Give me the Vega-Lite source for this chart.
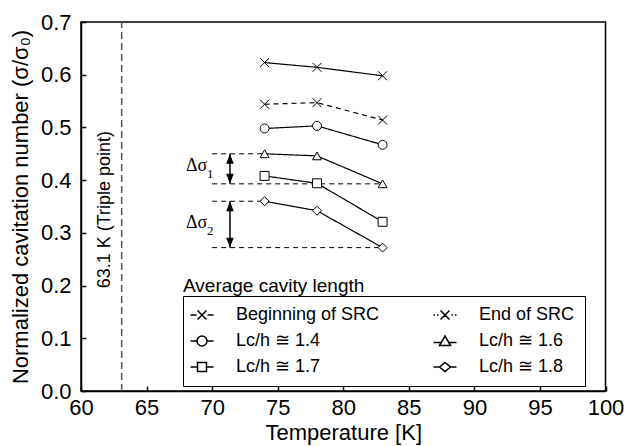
{
  "$schema": "https://vega.github.io/schema/vega-lite/v6.json",
  "width": 524.5,
  "height": 369,
  "autosize": {"type": "none"},
  "padding": {"left": 81, "top": 22, "right": 20.5, "bottom": 55},
  "background": "white",
  "datasets": {
    "series": [
      {"series": "Beginning of SRC", "T": 74, "s": 0.623},
      {"series": "Beginning of SRC", "T": 78, "s": 0.614},
      {"series": "Beginning of SRC", "T": 83, "s": 0.598},
      {"series": "End of SRC", "T": 74, "s": 0.544},
      {"series": "End of SRC", "T": 78, "s": 0.547},
      {"series": "End of SRC", "T": 83, "s": 0.514},
      {"series": "Lc/h ≅ 1.4", "T": 74, "s": 0.498},
      {"series": "Lc/h ≅ 1.4", "T": 78, "s": 0.503},
      {"series": "Lc/h ≅ 1.4", "T": 83, "s": 0.467},
      {"series": "Lc/h ≅ 1.6", "T": 74, "s": 0.45},
      {"series": "Lc/h ≅ 1.6", "T": 78, "s": 0.446},
      {"series": "Lc/h ≅ 1.6", "T": 83, "s": 0.393},
      {"series": "Lc/h ≅ 1.7", "T": 74, "s": 0.408},
      {"series": "Lc/h ≅ 1.7", "T": 78, "s": 0.394},
      {"series": "Lc/h ≅ 1.7", "T": 83, "s": 0.321},
      {"series": "Lc/h ≅ 1.8", "T": 74, "s": 0.36},
      {"series": "Lc/h ≅ 1.8", "T": 78, "s": 0.342},
      {"series": "Lc/h ≅ 1.8", "T": 83, "s": 0.272}
    ],
    "triple": [{"T": 63.1, "s": 0, "s2": 0.7}],
    "hrefs": [
      {"T": 70, "T2": 74, "s": 0.45},
      {"T": 70, "T2": 83, "s": 0.393},
      {"T": 70, "T2": 74, "s": 0.36},
      {"T": 70, "T2": 83, "s": 0.272}
    ],
    "arrows": [
      {"T": 71.36, "s": 0.45, "s2": 0.393},
      {"T": 71.36, "s": 0.36, "s2": 0.272}
    ],
    "headsUp": [{"T": 71.36, "s": 0.45}, {"T": 71.36, "s": 0.36}],
    "headsDown": [{"T": 71.36, "s": 0.393}, {"T": 71.36, "s": 0.272}],
    "deltas": [
      {"T": 68.0, "s": 0.426, "main": "Δσ", "sub": "1"},
      {"T": 68.0, "s": 0.318, "main": "Δσ", "sub": "2"}
    ],
    "tripleText": [{"T": 61.83, "s": 0.344, "label": "63.1 K (Triple point)"}],
    "legendTitle": [{"T": 67.78, "s": 0.188, "label": "Average cavity length"}]
  },
  "encoding": {
    "x": {
      "field": "T", "type": "quantitative",
      "scale": {"domain": [60, 100], "nice": false, "zero": false},
      "axis": {"title": "Temperature [K]", "values": [60, 65, 70, 75, 80, 85, 90, 95, 100], "labelPadding": 11, "titlePadding": 4, "labelFlush": false, "labelOverlap": false}
    },
    "y": {
      "field": "s", "type": "quantitative",
      "scale": {"domain": [0, 0.7], "nice": false, "zero": false},
      "axis": {"title": "Normalized cavitation number (σ/σ₀)", "values": [0, 0.1, 0.2, 0.3, 0.4, 0.5, 0.6, 0.7], "format": ".1f", "labelPadding": 15, "titlePadding": 8, "labelFlush": false, "labelOverlap": false}
    }
  },
  "layer": [
    {
      "data": {"name": "triple"},
      "mark": {"type": "rule", "color": "#555555", "strokeWidth": 1.5, "strokeDash": [7, 4]},
      "encoding": {"y2": {"field": "s2"}}
    },
    {
      "data": {"name": "hrefs"},
      "mark": {"type": "rule", "color": "black", "strokeWidth": 1, "strokeDash": [5, 4]},
      "encoding": {"x2": {"field": "T2"}}
    },
    {
      "data": {"name": "arrows"},
      "mark": {"type": "rule", "color": "black", "strokeWidth": 1.5},
      "encoding": {"y2": {"field": "s2"}}
    },
    {
      "data": {"name": "headsUp"},
      "mark": {"type": "point", "shape": "M0,0L-0.6,1.6L0.6,1.6Z", "filled": true, "color": "black", "size": 156, "opacity": 1}
    },
    {
      "data": {"name": "headsDown"},
      "mark": {"type": "point", "shape": "M0,0L-0.6,-1.6L0.6,-1.6Z", "filled": true, "color": "black", "size": 156, "opacity": 1}
    },
    {
      "data": {"name": "series"},
      "mark": {"type": "line", "color": "black", "strokeWidth": 1.2},
      "encoding": {
        "strokeDash": {
          "field": "series", "type": "nominal",
          "scale": {"domain": ["Beginning of SRC", "End of SRC", "Lc/h ≅ 1.4", "Lc/h ≅ 1.6", "Lc/h ≅ 1.7", "Lc/h ≅ 1.8"], "range": [[1, 0], [5, 4], [1, 0], [1, 0], [1, 0], [1, 0]]},
          "legend": null
        }
      }
    },
    {
      "data": {"name": "series"},
      "mark": {"type": "point", "filled": true, "fill": "white", "stroke": "black", "strokeWidth": 1, "size": 80, "opacity": 1},
      "encoding": {
        "shape": {
          "field": "series", "type": "nominal",
          "scale": {"domain": ["Beginning of SRC", "End of SRC", "Lc/h ≅ 1.4", "Lc/h ≅ 1.6", "Lc/h ≅ 1.7", "Lc/h ≅ 1.8"], "range": ["M-1,-1L1,1M-1,1L1,-1", "M-1,-1L1,1M-1,1L1,-1", "circle", "triangle-up", "square", "diamond"]},
          "legend": null
        }
      }
    },
    {
      "data": {"name": "series"},
      "transform": [{"filter": "false"}],
      "mark": {"type": "point", "color": "black", "size": 144, "opacity": 1, "strokeWidth": 1},
      "encoding": {
        "shape": {
          "field": "series", "type": "nominal",
          "scale": {
            "domain": ["Beginning of SRC", "End of SRC", "Lc/h ≅ 1.4", "Lc/h ≅ 1.6", "Lc/h ≅ 1.7", "Lc/h ≅ 1.8"],
            "range": [
              "M-2.3,0H-1.1M1.1,0H2.3M-0.9,-0.9L0.9,0.9M-0.9,0.9L0.9,-0.9",
              "M-2.3,0H-2.0M-1.6,0H-1.3M-0.9,-0.9L0.9,0.9M-0.9,0.9L0.9,-0.9M1.3,0H1.6M2.0,0H2.3",
              "M-2.3,0H-1M1,0H2.3M-1,0A1 1 0 1 0 1,0A1 1 0 1 0 -1,0Z",
              "M-2.3,0.3H-0.75M0.75,0.3H2.3M0,-1L1.1,0.9L-1.1,0.9Z",
              "M-2.3,0H-0.9M0.9,0H2.3M-0.9,-0.9H0.9V0.9H-0.9Z",
              "M-2.3,0H-1.1M1.1,0H2.3M-1.1,0L0,-0.9L1.1,0L0,0.9Z"
            ]
          },
          "legend": {
            "title": null,
            "orient": "none",
            "direction": "horizontal",
            "legendX": 102,
            "legendY": 274,
            "columns": 2,
            "columnPadding": 50,
            "rowPadding": 8,
            "padding": 10,
            "strokeColor": "black",
            "labelFont": "Liberation Sans",
            "labelFontSize": 18,
            "labelColor": "black",
            "labelOffset": 25,
            "labelLimit": 0
          }
        }
      }
    },
    {
      "data": {"name": "deltas"},
      "mark": {"type": "text", "align": "left", "baseline": "middle", "font": "Liberation Serif", "fontSize": 18, "color": "black"},
      "encoding": {"text": {"field": "main"}}
    },
    {
      "data": {"name": "deltas"},
      "mark": {"type": "text", "align": "left", "baseline": "middle", "font": "Liberation Serif", "fontSize": 13, "color": "black", "dx": 21, "dy": 8},
      "encoding": {"text": {"field": "sub"}}
    },
    {
      "data": {"name": "tripleText"},
      "mark": {"type": "text", "align": "center", "baseline": "middle", "angle": 270, "font": "Liberation Sans", "fontSize": 18, "color": "black"},
      "encoding": {"text": {"field": "label"}}
    },
    {
      "data": {"name": "legendTitle"},
      "mark": {"type": "text", "align": "left", "baseline": "alphabetic", "font": "Liberation Sans", "fontSize": 19, "color": "black"},
      "encoding": {"text": {"field": "label"}}
    }
  ],
  "resolve": {"scale": {"shape": "independent"}, "legend": {"shape": "independent"}},
  "config": {
    "view": {"stroke": "black", "strokeWidth": 1.5},
    "axis": {
      "domainColor": "black", "domainWidth": 1.5,
      "tickColor": "black", "tickWidth": 1.5, "tickSize": -5,
      "labelFont": "Liberation Sans", "labelFontSize": 22, "labelColor": "black",
      "titleFont": "Liberation Sans", "titleFontSize": 22, "titleFontWeight": "normal", "titleColor": "black",
      "grid": false
    }
  }
}
